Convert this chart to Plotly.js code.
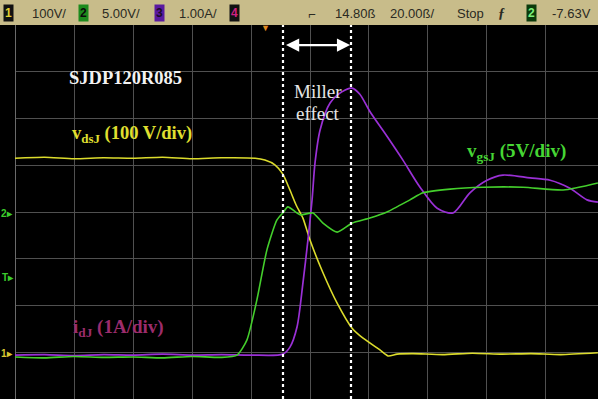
<!DOCTYPE html>
<html>
<head>
<meta charset="utf-8">
<script src="https://cdn.plot.ly/plotly-3.0.1.min.js"></script>
<style>html,body{margin:0;padding:0;background:#000;}#chart{width:598px;height:399px;}</style>
</head>
<body>
<div id="chart"></div>
<script>
// time in ns from left screen edge (20 ns/div), amplitude in screen divisions (0 = bottom)
const vdsT = [0, 10, 20, 30, 40, 50, 60, 70, 81.4, 84.7, 88.1, 90.8, 93.2, 95.3, 97.6, 100.0, 104.4, 109.2, 114.2, 118.0, 123.7, 126.5, 129.5, 135, 145, 155, 165, 175, 185, 197.6];
const vdsV = [5.15, 5.17, 5.14, 5.16, 5.15, 5.17, 5.14, 5.16, 5.15, 5.11, 5.01, 4.81, 4.47, 4.15, 3.87, 3.40, 2.70, 2.05, 1.52, 1.30, 1.05, 0.92, 0.96, 0.97, 0.95, 0.98, 0.96, 0.97, 0.95, 0.99];

const vgsT = [0, 10, 20, 30, 40, 50, 60, 70, 75.3, 78.6, 82.0, 85.4, 88.8, 90.8, 92.5, 96.6, 101.0, 104.4, 109.2, 114.2, 120.3, 126.1, 133.9, 138.3, 147.5, 158.6, 172.2, 185.8, 197.6];
const vgsV = [0.90, 0.88, 0.91, 0.89, 0.90, 0.88, 0.91, 0.89, 0.94, 1.26, 2.12, 3.19, 3.83, 3.98, 4.11, 3.94, 3.98, 3.76, 3.57, 3.76, 3.87, 4.00, 4.26, 4.41, 4.49, 4.53, 4.53, 4.47, 4.62];

const idT = [0, 10, 20, 30, 40, 50, 60, 70, 80, 90.8, 93.2, 95.6, 97.6, 99.3, 100.7, 101.7, 103.4, 106.8, 110.8, 114.2, 116.9, 120.3, 126.1, 131.5, 137.3, 143.1, 148.5, 154.2, 160.0, 165.4, 174.6, 181.4, 188.1, 193.9, 197.6];
const idV = [0.94, 0.95, 0.93, 0.95, 0.94, 0.96, 0.94, 0.95, 0.94, 0.96, 1.11, 1.54, 2.48, 3.40, 4.26, 5.05, 5.75, 6.33, 6.57, 6.65, 6.52, 6.15, 5.62, 5.11, 4.53, 4.08, 3.98, 4.41, 4.68, 4.79, 4.73, 4.68, 4.51, 4.26, 4.21];

const millerT = [90.85, 113.9];
const topBarLabels = ["100V/", "5.00V/", "1.00A/", "14.80ß", "20.00ß/", "Stop", "-7.63V"];
const chanBoxes = ["1", "2", "3", "4", "2"];

const W = 598, H = 399, L = 15, T = 25;
const PW = 583, PH = 374;
const px = x => (x - L) / PW;
const py = y => (H - y) / PH;

const traces = [
  {x: vdsT, y: vdsV, mode: 'lines', line: {color: '#dcdc2c', width: 1.6, shape: 'spline', smoothing: 0.6}, hoverinfo: 'skip'},
  {x: idT, y: idV, mode: 'lines', line: {color: '#9a30d6', width: 1.7, shape: 'spline', smoothing: 0.8}, hoverinfo: 'skip'},
  {x: vgsT, y: vgsV, mode: 'lines', line: {color: '#44cf2c', width: 1.6, shape: 'spline', smoothing: 0.6}, hoverinfo: 'skip'}
];

const serif = 'Liberation Serif, Times New Roman, serif';
const sans = 'Liberation Sans, Arial, sans-serif';
const ann = [];
function txt(x, y, text, color, size, opts) {
  ann.push(Object.assign({xref: 'paper', yref: 'paper', x: px(x), y: py(y), text: text,
    showarrow: false, xanchor: 'left', yanchor: 'middle',
    font: {family: serif, size: size, color: color}}, opts || {}));
}
txt(67, 78, '<b>SJDP120R085</b>', '#f2f2f2', 18.5);
txt(70, 134, '<b>v<sub>dsJ</sub> (100 V/div)</b>', '#e0e030', 18.5);
txt(465, 152, '<b>v<sub>gsJ</sub> (5V/div)</b>', '#46d634', 19);
txt(71, 328, '<b>i<sub>dJ</sub> (1A/div)</b>', '#9c2c6c', 19);
txt(318, 91, 'Miller', '#e6e6e6', 19, {xanchor: 'center'});
txt(318, 114, 'effect', '#e6e6e6', 19, {xanchor: 'center'});

// top bar texts
const topX = [30, 100, 177, 333, 388, 455, 550];
topBarLabels.forEach((s, i) => txt(topX[i], 13, s, '#2a2a22', 13, {font: {family: sans, size: 13, color: '#2a2a22'}}));
const boxX = [8, 83, 159, 234, 531];
const boxBg = ['#111', '#1d8a1d', '#5a1aa0', '#111', '#0b3a0b'];
const boxFg = ['#e0d030', '#0a0a0a', '#1a0a2a', '#d02080', '#7af07a'];
chanBoxes.forEach((s, i) => ann.push({xref: 'paper', yref: 'paper', x: px(boxX[i]), y: py(13), text: '<b>' + s + '</b>',
  showarrow: false, xanchor: 'center', yanchor: 'middle', bgcolor: boxBg[i], borderpad: 1,
  font: {family: sans, size: 12, color: boxFg[i]}}));
txt(312, 14, '<b>⌐</b>', '#2a2a22', 13, {xanchor: 'center', font: {family: sans, size: 13, color: '#2a2a22'}});
txt(501, 13, '<i><b>ƒ</b></i>', '#2a2a22', 14, {xanchor: 'center', font: {family: serif, size: 14, color: '#2a2a22'}});
txt(265, 28, '▼', '#e08a20', 9, {xanchor: 'center', font: {family: sans, size: 9, color: '#e08a20'}});

// left channel markers
txt(7, 213, '<b>2▸</b>', '#3ccc2c', 10, {xanchor: 'center', font: {family: sans, size: 10, color: '#3ccc2c'}});
txt(8, 277, '<b>T▸</b>', '#3ccc2c', 10, {xanchor: 'center', font: {family: sans, size: 10, color: '#3ccc2c'}});
txt(7, 353, '<b>1▸</b>', '#d8c830', 10, {xanchor: 'center', font: {family: sans, size: 10, color: '#d8c830'}});

// double arrow between Miller markers
ann.push({xref: 'x', yref: 'y', x: millerT[1] - 0.3, y: 7.57, ax: millerT[0] + 0.5, ay: 7.57,
  axref: 'x', ayref: 'y', text: '', showarrow: true, arrowhead: 2, arrowside: 'end+start',
  arrowsize: 1.1, arrowwidth: 2.4, arrowcolor: '#ffffff'});

const shapes = [
  {type: 'rect', xref: 'paper', yref: 'paper', x0: -0.1, x1: 1.1, y0: 1, y1: 1 + 25 / PH,
   fillcolor: '#c8bc8a', line: {width: 0}, layer: 'above'},
  {type: 'line', xref: 'x', yref: 'paper', x0: millerT[0], x1: millerT[0], y0: 0, y1: 1,
   line: {color: '#ffffff', width: 2.2, dash: 'dot'}},
  {type: 'line', xref: 'x', yref: 'paper', x0: millerT[1], x1: millerT[1], y0: 0, y1: 1,
   line: {color: '#ffffff', width: 2.2, dash: 'dot'}}
];

const layout = {
  width: W, height: H,
  margin: {l: L, r: 0, t: T, b: 0, pad: 0},
  paper_bgcolor: '#000', plot_bgcolor: '#000',
  showlegend: false,
  xaxis: {range: [0, 197.63], dtick: 20, tick0: 0, showgrid: true, gridcolor: '#505050', gridwidth: 1,
          zeroline: true, zerolinecolor: '#6a6a6a', showticklabels: false, ticks: '', fixedrange: true},
  yaxis: {range: [0, 8], dtick: 1, tick0: 0, showgrid: true, gridcolor: '#505050', gridwidth: 1,
          zeroline: false, showticklabels: false, ticks: '', fixedrange: true},
  annotations: ann,
  shapes: shapes
};

Plotly.newPlot('chart', traces, layout, {displayModeBar: false, staticPlot: true});
</script>
</body>
</html>
